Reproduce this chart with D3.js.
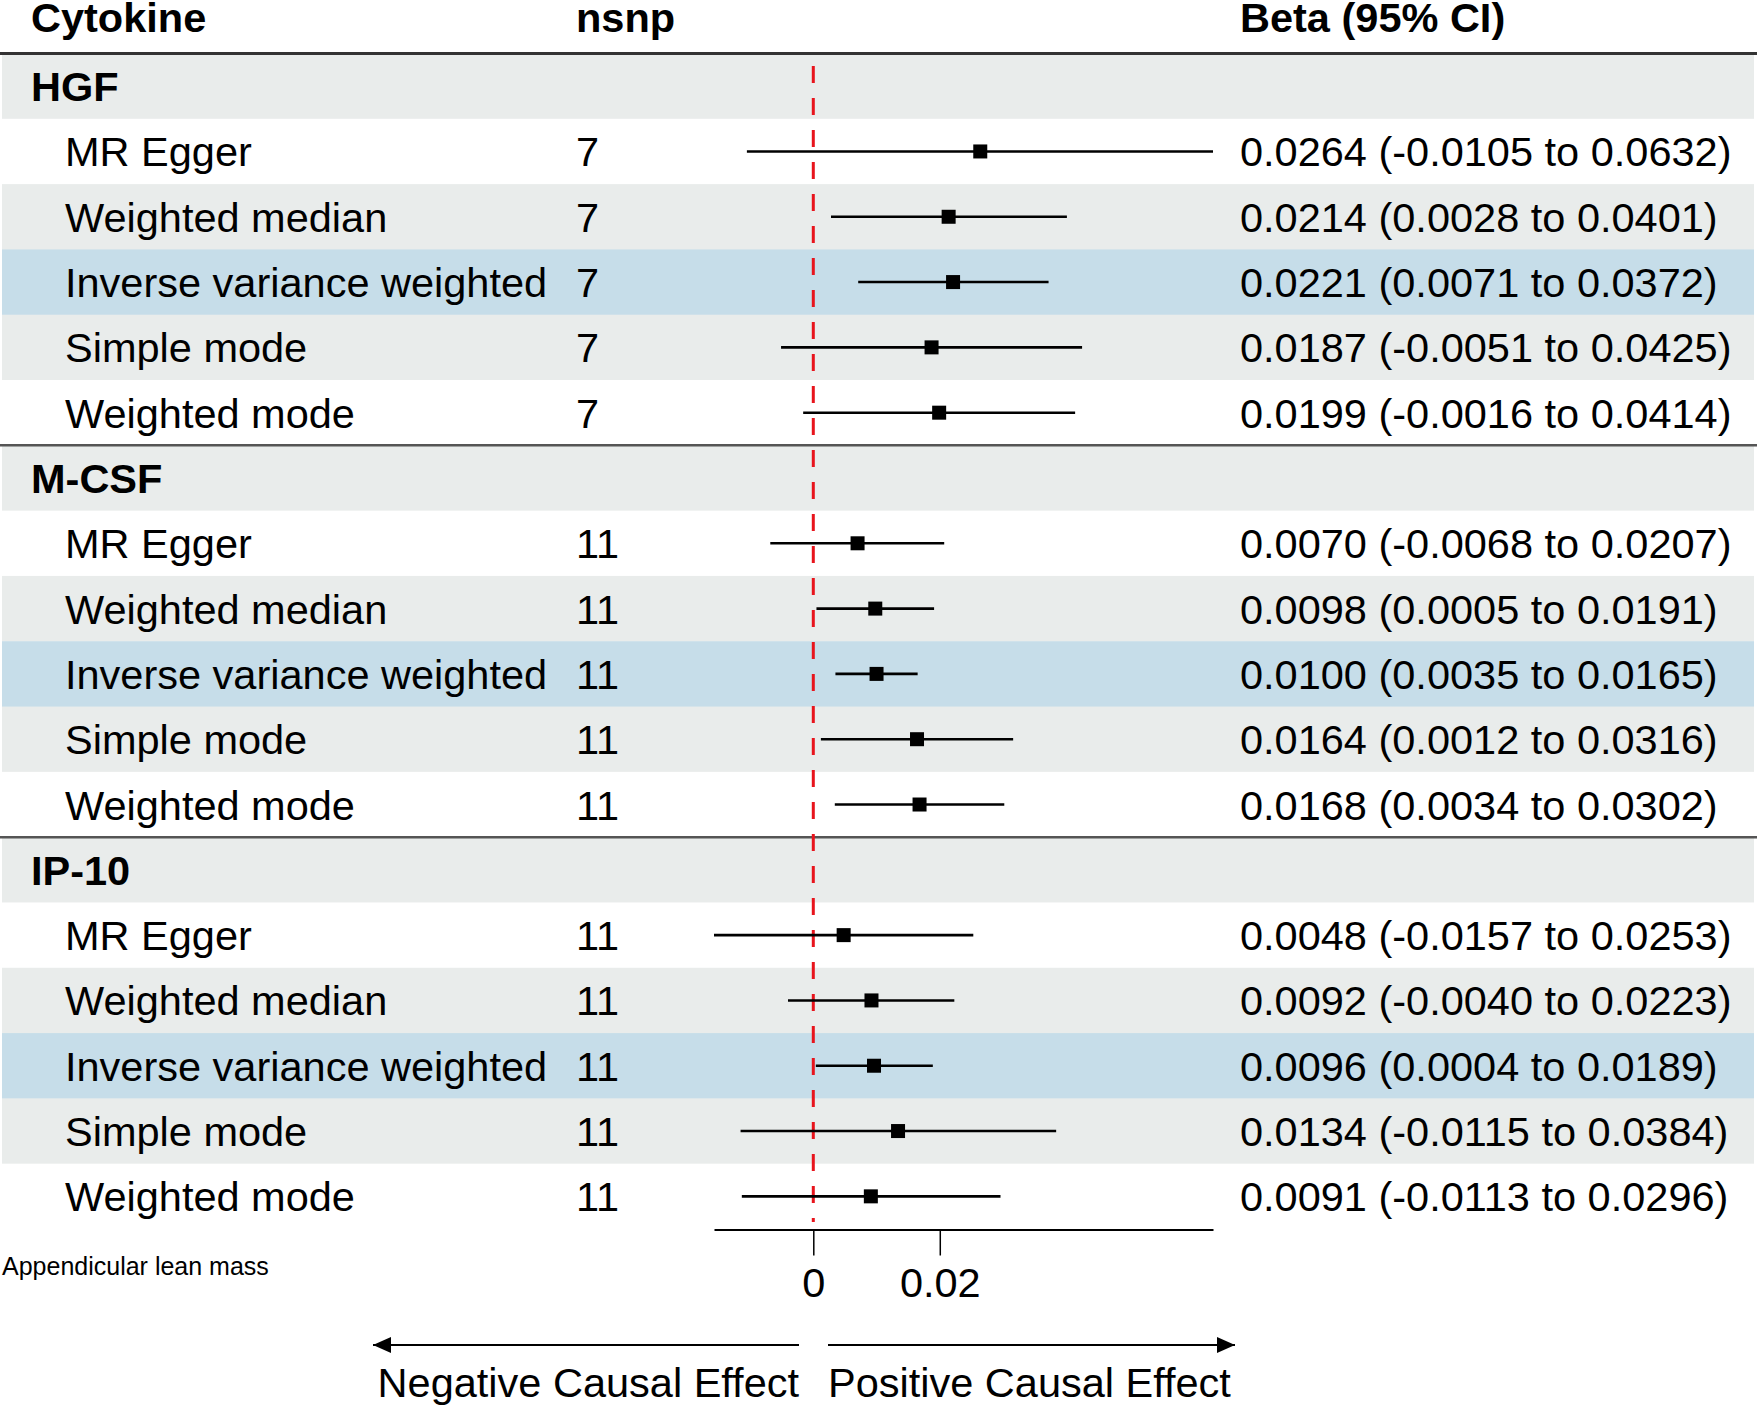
<!DOCTYPE html>
<html>
<head>
<meta charset="utf-8">
<script src="https://cdn.jsdelivr.net/npm/d3@7"></script>
<style>
body { margin: 0; background: #fff; }
text { font-family: "Liberation Sans", Arial, sans-serif; fill: #000; }
</style>
</head>
<body>
<div id="chart"></div>
<script>
// data
var cytokines = ['HGF', 'M-CSF', 'IP-10']
var methods = ['MR Egger', 'Weighted median', 'Inverse variance weighted', 'Simple mode', 'Weighted mode']
var nsnp = [7, 11, 11]
var beta  = [0.0264, 0.0214, 0.0221, 0.0187, 0.0199,
             0.0070, 0.0098, 0.0100, 0.0164, 0.0168,
             0.0048, 0.0092, 0.0096, 0.0134, 0.0091]
var lower = [-0.0105, 0.0028, 0.0071, -0.0051, -0.0016,
             -0.0068, 0.0005, 0.0035, 0.0012, 0.0034,
             -0.0157, -0.0040, 0.0004, -0.0115, -0.0113]
var upper = [0.0632, 0.0401, 0.0372, 0.0425, 0.0414,
             0.0207, 0.0191, 0.0165, 0.0316, 0.0302,
             0.0253, 0.0223, 0.0189, 0.0384, 0.0296]
var tickValues = [0, 0.02]
var tickLabels = ['0', '0.02']
var outcome = 'Appendicular lean mass'

var width = 1757,
    height = 1405
var fs = 41.5

var svg = d3.select('#chart')
  .append('svg')
  .attr('width', width)
  .attr('height', height)

// build table rows
var rows = []
cytokines.forEach(function(c, g) {
  rows.push({ type: 'group', label: c })
  methods.forEach(function(m, k) {
    var i = g * methods.length + k
    rows.push({ type: 'method', k: k, label: m, n: nsnp[g], b: beta[i], lo: lower[i], hi: upper[i] })
  })
})

var yScale = d3.scaleBand()
  .domain(d3.range(rows.length))
  .range([53.5, 1229])

var xScale = d3.scaleLinear()
  .domain([d3.min(lower), d3.max(upper)])
  .range([714, 1213])

var fills = ['#ffffff', '#e9eceb', '#c6dde9', '#e9eceb', '#ffffff']

// backgrounds
svg.selectAll('.bg')
  .data(rows)
  .enter()
  .append('rect')
  .attr('class', 'bg')
  .attr('x', 2)
  .attr('width', 1752)
  .attr('y', (d, i) => yScale(i))
  .attr('height', yScale.bandwidth() + 0.5)
  .attr('fill', d => d.type === 'group' ? '#e9eceb' : fills[d.k])

// header
var header = svg.append('g').attr('font-weight', 'bold').attr('font-size', fs)
header.append('text').attr('x', 31).attr('y', 32).text('Cytokine')
header.append('text').attr('x', 576).attr('y', 32).text('nsnp')
header.append('text').attr('x', 1240).attr('y', 32).text('Beta (95% CI)')

svg.append('line')
  .attr('x1', 0).attr('x2', 1757)
  .attr('y1', 53.5).attr('y2', 53.5)
  .attr('stroke', '#333').attr('stroke-width', 3)

// group separators
svg.selectAll('.sep')
  .data([1, 2])
  .enter()
  .append('line')
  .attr('class', 'sep')
  .attr('x1', 0).attr('x2', 1757)
  .attr('y1', g => yScale(g * 6)).attr('y2', g => yScale(g * 6))
  .attr('stroke', '#555').attr('stroke-width', 2.5)

// row labels
var rowG = svg.selectAll('.row')
  .data(rows)
  .enter()
  .append('g')
  .attr('class', 'row')
  .attr('transform', (d, i) => 'translate(0,' + (yScale(i) + yScale.bandwidth() / 2 + 15) + ')')
  .attr('font-size', fs)

rowG.append('text')
  .attr('x', d => d.type === 'group' ? 31 : 65)
  .attr('font-weight', d => d.type === 'group' ? 'bold' : 'normal')
  .text(d => d.label)

var methodRows = rowG.filter(d => d.type === 'method')
methodRows.append('text')
  .attr('x', 576)
  .text(d => d.n)
methodRows.append('text')
  .attr('x', 1240)
  .text(d => d.b.toFixed(4) + ' (' + d.lo.toFixed(4) + ' to ' + d.hi.toFixed(4) + ')')

// zero line
svg.append('line')
  .attr('x1', xScale(0)).attr('x2', xScale(0))
  .attr('y1', 66).attr('y2', 1222)
  .attr('stroke', '#e8141c')
  .attr('stroke-width', 3)
  .attr('stroke-dasharray', '17,15')

// CI lines and boxes
var est = rows.map((d, i) => Object.assign({ i: i }, d)).filter(d => d.type === 'method')

svg.selectAll('.ci')
  .data(est)
  .enter()
  .append('line')
  .attr('class', 'ci')
  .attr('x1', d => xScale(d.lo)).attr('x2', d => xScale(d.hi))
  .attr('y1', d => yScale(d.i) + yScale.bandwidth() / 2)
  .attr('y2', d => yScale(d.i) + yScale.bandwidth() / 2)
  .attr('stroke', '#000').attr('stroke-width', 2.6)

var box = 14
svg.selectAll('.box')
  .data(est)
  .enter()
  .append('rect')
  .attr('class', 'box')
  .attr('x', d => xScale(d.b) - box / 2)
  .attr('y', d => yScale(d.i) + yScale.bandwidth() / 2 - box / 2)
  .attr('width', box).attr('height', box)
  .attr('fill', '#000')

// x axis
var axis = svg.append('g')
  .attr('transform', 'translate(0,1229.5)')
  .call(d3.axisBottom(xScale)
    .tickValues(tickValues)
    .tickFormat((d, i) => tickLabels[i])
    .tickSize(26)
    .tickSizeOuter(0)
    .tickPadding(12))
axis.select('.domain').attr('stroke', '#000').attr('stroke-width', 2)
axis.selectAll('.tick line').attr('stroke', '#000').attr('stroke-width', 1.5)
axis.selectAll('.tick text')
  .attr('font-size', fs)
  .attr('font-family', '"Liberation Sans", Arial, sans-serif')
  .attr('fill', '#000')

svg.append('text')
  .attr('x', 2).attr('y', 1275)
  .attr('font-size', 25)
  .text(outcome)

// direction arrows
svg.append('defs').append('marker')
  .attr('id', 'head')
  .attr('viewBox', '0 0 18 16')
  .attr('refX', 18).attr('refY', 8)
  .attr('markerWidth', 18).attr('markerHeight', 16)
  .attr('markerUnits', 'userSpaceOnUse')
  .attr('orient', 'auto')
  .append('path')
  .attr('d', 'M0,0L18,8L0,16Z')
  .attr('fill', '#000')

var arrowY = 1345
svg.append('line')
  .attr('x1', 799).attr('x2', 373)
  .attr('y1', arrowY).attr('y2', arrowY)
  .attr('stroke', '#000').attr('stroke-width', 2.2)
  .attr('marker-end', 'url(#head)')
svg.append('line')
  .attr('x1', 828).attr('x2', 1235)
  .attr('y1', arrowY).attr('y2', arrowY)
  .attr('stroke', '#000').attr('stroke-width', 2.2)
  .attr('marker-end', 'url(#head)')

svg.append('text')
  .attr('x', 799).attr('y', 1397)
  .attr('font-size', fs)
  .attr('text-anchor', 'end')
  .text('Negative Causal Effect')
svg.append('text')
  .attr('x', 828).attr('y', 1397)
  .attr('font-size', fs)
  .text('Positive Causal Effect')
</script>
</body>
</html>
